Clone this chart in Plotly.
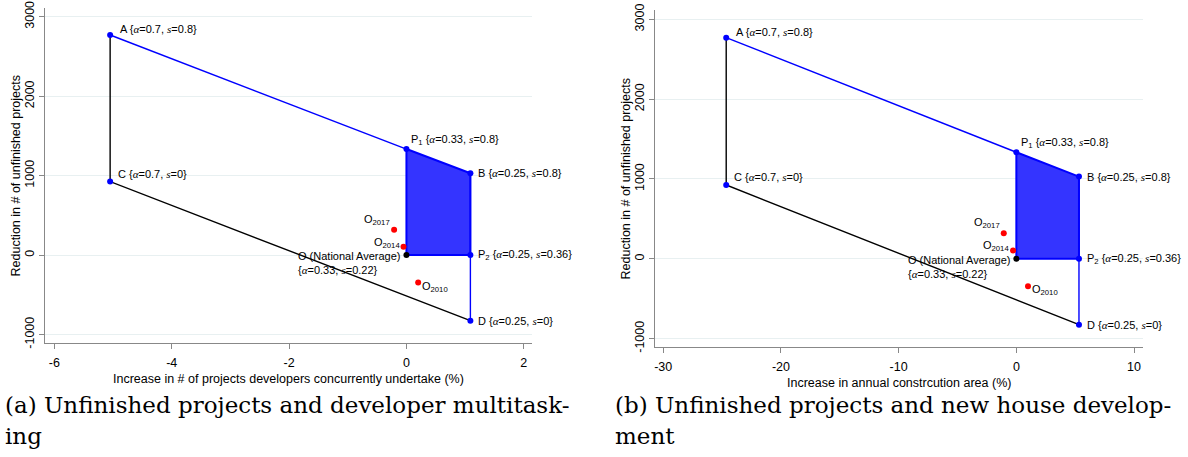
import plotly.graph_objects as go

W, H = 1188, 457

# ---- data ----
point_names = ["A", "C", "P1", "B", "P2", "D", "O"]
reduction = [2770, 925, 1335, 1030, 0, -825, 0]
multitask_increase = [-5.05, -5.05, 0.0, 1.09, 1.09, 1.09, 0.0]
construction_increase = [-24.65, -24.65, 0.0, 5.32, 5.32, 5.32, 0.0]
alpha_vals = ["0.7", "0.7", "0.33", "0.25", "0.25", "0.25", "0.33"]
s_vals = ["0.8", "0", "0.8", "0.8", "0.36", "0", "0.22"]
point_prefix = ["A", "C", "P<sub>1</sub>", "B", "P<sub>2</sub>", "D", "O (National Average)"]

obs_names = ["O<sub>2017</sub>", "O<sub>2014</sub>", "O<sub>2010</sub>"]
obs_reduction = [320, 105, -345]
obs_multitask = [-0.21, -0.05, 0.20]
obs_construction = [-1.07, -0.28, 0.99]

y_ticks = [-1000, 0, 1000, 2000, 3000]
y_tick_text = ["-1000", "0", "1000", "2000", "3000"]
x_ticks_left = [-6, -4, -2, 0, 2]
x_tick_text_left = ["-6", "-4", "-2", "0", "2"]
x_ticks_right = [-30, -20, -10, 0, 10]
x_tick_text_right = ["-30", "-20", "-10", "0", "10"]

x_title_left = "Increase in # of projects developers concurrently undertake (%)"
x_title_right = "Increase in annual constrcution area (%)"
y_title = "Reduction in # of unfinished projects"
caption_left = ["(a) Unfinished projects and developer multitask-", "ing"]
caption_right = ["(b) Unfinished projects and new house develop-", "ment"]

BLUE = "#0000ff"
FILL = "rgb(52,52,255)"
SERIF = "Liberation Serif"
CAPFONT = "DejaVu Serif"
SANS = "Liberation Sans"

# panel geometry (pixels)
LEFT_BOX = dict(x0=45, x1=532, y0=8, y1=343)
RIGHT_BOX = dict(x0=655, x1=1143, y0=10, y1=347)


def it(ch):
    return '<span style="font-family:%s"><i>%s</i></span>' % (SERIF, ch)


def label_text(i):
    tail = "{%s=%s, %s=%s}" % (it("α"), alpha_vals[i], it("s"), s_vals[i])
    if point_names[i] == "O":
        return point_prefix[i] + "<br>" + tail
    return point_prefix[i] + " " + tail


idx = {n: i for i, n in enumerate(point_names)}

fig = go.Figure()
annotations = []

offsets = {
    "A": dict(xanchor="left", yanchor="middle", xshift=8, yshift=6),
    "C": dict(xanchor="left", yanchor="middle", xshift=6, yshift=8),
    "P1": dict(xanchor="left", yanchor="middle", xshift=3, yshift=9),
    "B": dict(xanchor="left", yanchor="middle", xshift=6, yshift=0),
    "P2": dict(xanchor="left", yanchor="middle", xshift=6, yshift=0),
    "D": dict(xanchor="left", yanchor="middle", xshift=6, yshift=0),
    "O": dict(xanchor="right", yanchor="top", xshift=-3, yshift=7),
}
obs_offsets = [
    dict(xanchor="right", yanchor="middle", xshift=-2, yshift=10),
    dict(xanchor="right", yanchor="middle", xshift=-2, yshift=4),
    dict(xanchor="left", yanchor="middle", xshift=2, yshift=-4),
]


def add_panel(xs, obs_x, xa, ya):
    def P(n):
        return xs[idx[n]], reduction[idx[n]]

    poly = ["P1", "B", "P2", "O", "P1"]
    fig.add_trace(go.Scatter(
        x=[P(n)[0] for n in poly], y=[P(n)[1] for n in poly],
        mode="lines", fill="toself", fillcolor=FILL,
        line=dict(color=BLUE, width=2), xaxis=xa, yaxis=ya,
        hoverinfo="skip", showlegend=False))
    for seg, col in ((["A", "P1"], BLUE), (["B", "D"], BLUE), (["A", "C", "D"], "black")):
        fig.add_trace(go.Scatter(
            x=[P(n)[0] for n in seg], y=[P(n)[1] for n in seg], mode="lines",
            line=dict(color=col, width=1.4), xaxis=xa, yaxis=ya, showlegend=False))
    bl = ["A", "C", "P1", "B", "P2", "D"]
    fig.add_trace(go.Scatter(
        x=[P(n)[0] for n in bl], y=[P(n)[1] for n in bl], mode="markers",
        marker=dict(color=BLUE, size=6), xaxis=xa, yaxis=ya, showlegend=False))
    fig.add_trace(go.Scatter(
        x=[P("O")[0]], y=[P("O")[1]], mode="markers",
        marker=dict(color="black", size=6), xaxis=xa, yaxis=ya, showlegend=False))
    fig.add_trace(go.Scatter(
        x=obs_x, y=obs_reduction, mode="markers",
        marker=dict(color="red", size=6), xaxis=xa, yaxis=ya, showlegend=False))

    for n in point_names:
        i = idx[n]
        annotations.append(dict(
            x=xs[i], y=reduction[i], xref=xa, yref=ya, text=label_text(i),
            showarrow=False, align="left", font=dict(family=SANS, size=11, color="black"),
            **offsets[n]))
    for j in range(len(obs_names)):
        annotations.append(dict(
            x=obs_x[j], y=obs_reduction[j], xref=xa, yref=ya, text=obs_names[j],
            showarrow=False, font=dict(family=SANS, size=11, color="black"),
            **obs_offsets[j]))


add_panel(multitask_increase, obs_multitask, "x", "y")
add_panel(construction_increase, obs_construction, "x2", "y2")


def cap(lines, px):
    for k, line in enumerate(lines):
        annotations.append(dict(
            x=px / W, y=1 - (405 + 31 * k) / H, xref="paper", yref="paper",
            text=line, showarrow=False, xanchor="left", yanchor="middle",
            font=dict(family=CAPFONT, size=23, color="black")))


cap(caption_left, 3)
cap(caption_right, 613)


def titles(box, xt):
    annotations.append(dict(
        x=(box["x0"] + box["x1"]) / 2 / W, y=1 - (box["y1"] + 36) / H,
        xref="paper", yref="paper", text=xt, showarrow=False,
        xanchor="center", yanchor="middle",
        font=dict(family=SANS, size=12.5, color="black")))
    annotations.append(dict(
        x=(box["x0"] - 30) / W, y=1 - (box["y0"] + box["y1"]) / 2 / H,
        xref="paper", yref="paper", text=y_title, showarrow=False, textangle=-90,
        xanchor="center", yanchor="middle",
        font=dict(family=SANS, size=12.5, color="black")))


titles(LEFT_BOX, x_title_left)
titles(RIGHT_BOX, x_title_right)

axis_common = dict(
    showline=True, linecolor="#888888", linewidth=1.3, ticks="outside",
    ticklen=5, tickcolor="#888888", tickwidth=1.2, zeroline=False,
    tickfont=dict(family=SANS, size=12.5, color="black"), automargin=False)

xaxis_common = dict(axis_common, showgrid=False, ticklabelstandoff=3)
yaxis_common = dict(axis_common, showgrid=True, gridcolor="#e8f0f1", gridwidth=1,
                    tickvals=y_ticks, ticktext=y_tick_text, tickangle=-90)


def dom_x(b):
    return [b["x0"] / W, b["x1"] / W]


def dom_y(b):
    return [(H - b["y1"]) / H, (H - b["y0"]) / H]


fig.update_layout(
    width=W, height=H, margin=dict(l=0, r=0, t=0, b=0),
    paper_bgcolor="white", plot_bgcolor="white", showlegend=False,
    xaxis=dict(xaxis_common, domain=dom_x(LEFT_BOX), range=[-6.16, 2.14],
               tickvals=x_ticks_left, ticktext=x_tick_text_left, anchor="y"),
    yaxis=dict(yaxis_common, domain=dom_y(LEFT_BOX), range=[-1106, 3110], anchor="x"),
    xaxis2=dict(xaxis_common, domain=dom_x(RIGHT_BOX), range=[-30.7, 10.76],
                tickvals=x_ticks_right, ticktext=x_tick_text_right, anchor="y2"),
    yaxis2=dict(yaxis_common, domain=dom_y(RIGHT_BOX), range=[-1105, 3117], anchor="x2"),
    annotations=annotations,
)

fig.write_html("out.html")
